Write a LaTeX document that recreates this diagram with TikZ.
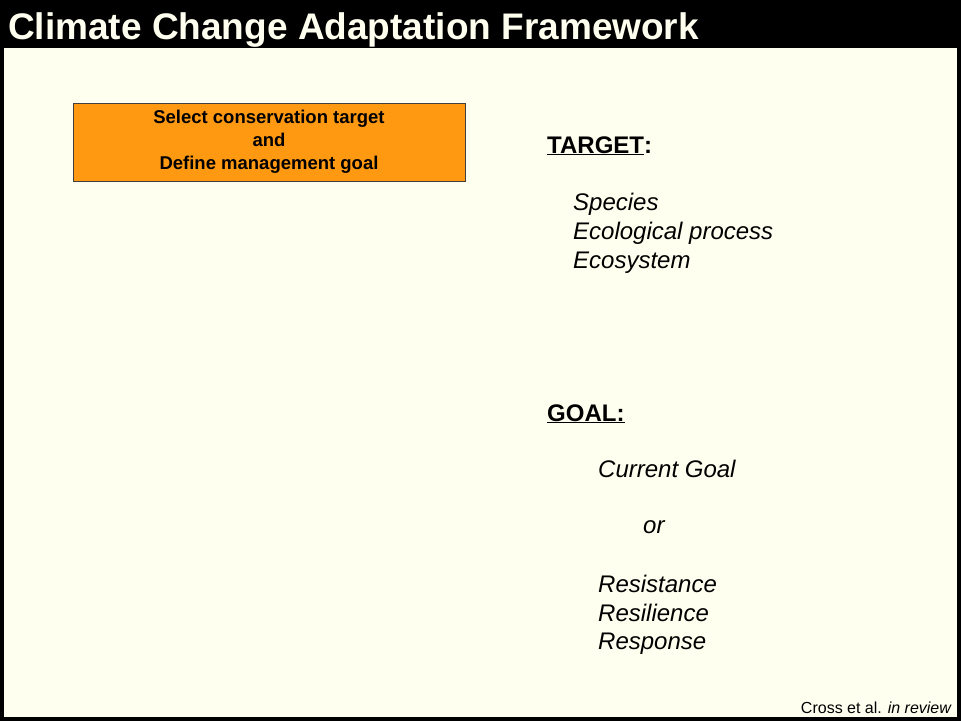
\documentclass[tikz,border=0pt]{standalone}
\usepackage{fontspec}
\setmainfont{Liberation Sans}
\definecolor{ivory}{HTML}{FFFFF0}
\definecolor{boxorange}{HTML}{FF9912}
\begin{document}
\begin{tikzpicture}[x=1pt,y=-1pt,
  heading/.style={anchor=base west,inner sep=0pt,font=\fontsize{24}{29}\selectfont\bfseries},
  entry/.style={anchor=base west,inner sep=0pt,font=\fontsize{24}{29}\selectfont\itshape}]
\useasboundingbox (0,0) rectangle (961,721);
\fill[black] (0,0) rectangle (961,721);
\fill[ivory] (4,48) rectangle (957,717);
\node[anchor=base west,text=ivory,font=\fontsize{37}{40}\selectfont\bfseries,inner sep=0pt] (title) at (8,39) {Climate Change Adaptation Framework};
\node[draw=black!75,fill=boxorange,minimum width=392pt,minimum height=78pt,align=center,font=\fontsize{18.5}{23}\selectfont\bfseries] (select) at (269,142) {Select conservation target\\and\\Define management goal};
\node[heading] (target) at (547,153) {\underline{TARGET}:};
\node[entry] (species) at (573,210) {Species};
\node[entry] (process) at (573,239) {Ecological process};
\node[entry] (ecosystem) at (573,268) {Ecosystem};
\node[heading] (goal) at (547,421) {\underline{GOAL:}};
\node[entry] (current) at (598,477) {Current Goal};
\node[entry] (or) at (643,533) {or};
\node[entry] (resistance) at (598,592) {Resistance};
\node[entry] (resilience) at (598,621) {Resilience};
\node[entry] (response) at (598,649) {Response};
\node[anchor=base east,font=\fontsize{16}{18}\selectfont,inner sep=0pt] (cite) at (952,713) {Cross et al. \textit{in review}};
\end{tikzpicture}
\end{document}
